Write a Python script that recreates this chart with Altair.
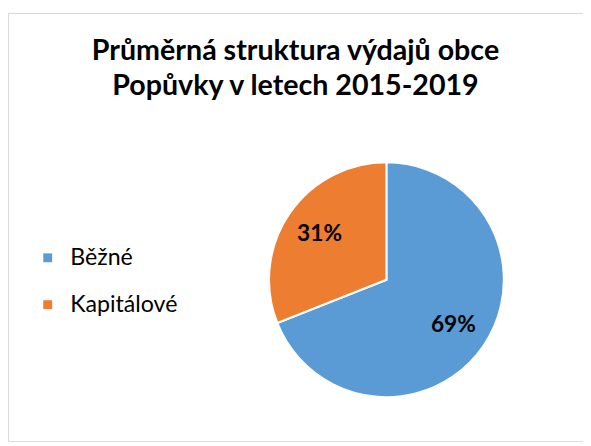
import altair as alt
import pandas as pd

# ---- data ----
categories = ["Běžné", "Kapitálové"]
shares = [69, 31]
share_labels = ["69%", "31%"]
slice_colors = ["#5B9BD5", "#ED7D31"]
title_lines = ["Průměrná struktura výdajů obce", "Popůvky v letech 2015-2019"]

df = pd.DataFrame({
    "category": categories,
    "share": shares,
    "label": share_labels,
    "order": list(range(len(categories))),
})

W, H = 583, 434
CX, CY = 383.7, 270.5
R = 119

color = alt.Color(
    "category:N",
    scale=alt.Scale(domain=categories, range=slice_colors),
    sort=categories,
    legend=alt.Legend(
        orient="none",
        legendX=28.5,
        legendY=236.5,
        title=None,
        symbolType="square",
        symbolSize=81,
        symbolStrokeWidth=0,
        labelFont="Lato",
        labelFontSize=23.5,
        labelColor="#000000",
        labelOffset=11,
        rowPadding=22.5,
        padding=0,
    ),
)

pie = alt.Chart(df).mark_arc(outerRadius=R, stroke="white", strokeWidth=2).encode(
    theta=alt.Theta("share:Q", stack=True),
    color=color,
    order=alt.Order("order:Q"),
    x=alt.value(CX),
    y=alt.value(CY),
)

labels = alt.Chart(df).mark_text(
    radius=82, font="Lato", fontWeight="bold", fontSize=23, color="#000000",
    align="center", baseline="middle",
).encode(
    theta=alt.Theta("share:Q", stack=True),
    order=alt.Order("order:Q"),
    text="label:N",
    x=alt.value(CX),
    y=alt.value(CY),
)

frame = pd.DataFrame({"k": [0]})
top_border = alt.Chart(frame).mark_rule(color="#d9d9d9", strokeWidth=1).encode(
    x=alt.value(0), x2=alt.value(W), y=alt.value(0.5)
)
left_border = alt.Chart(frame).mark_rule(color="#d9d9d9", strokeWidth=1).encode(
    x=alt.value(0.5), y=alt.value(0), y2=alt.value(H)
)

chart = alt.layer(top_border, left_border, pie, labels).properties(
    width=W,
    height=H,
    padding={"left": 0, "top": 2, "right": 0, "bottom": 0},
    autosize="none",
    title=alt.TitleParams(
        text=title_lines,
        font="Lato",
        fontSize=29,
        fontWeight="bold",
        color="#000000",
        lineHeight=36,
        anchor="middle",
        frame="group",
        baseline="alphabetic",
        offset=-113,
    ),
).configure_view(strokeWidth=0, stroke="transparent").configure(background="white")

chart.save("out.html", embed_options={"renderer": "svg", "actions": False})
